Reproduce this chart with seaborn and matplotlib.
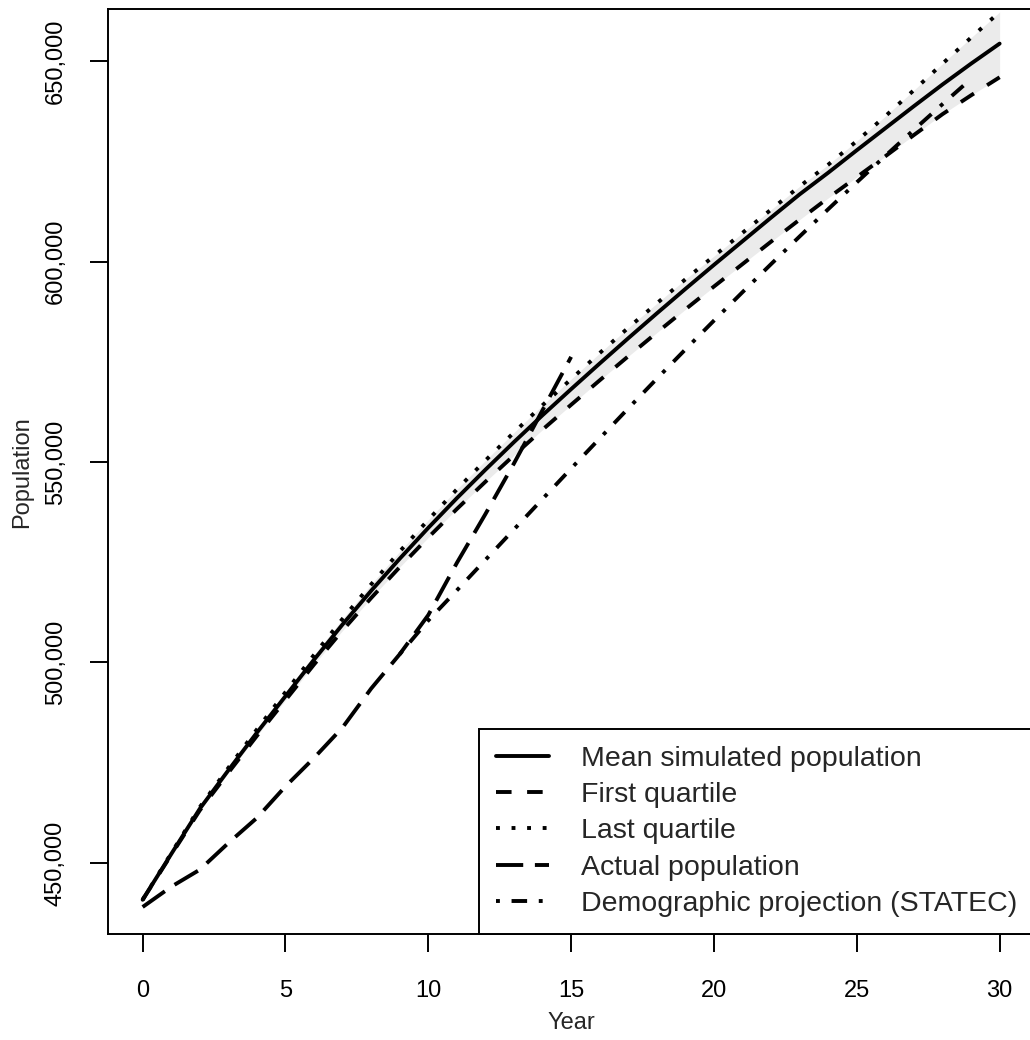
import matplotlib
matplotlib.use("Agg")
import matplotlib.pyplot as plt
from matplotlib.ticker import FuncFormatter
import seaborn as sns

# Simulation results (persons), year 0 .. 30
years = list(range(31))
mean_pop = [440800, 452200, 463500, 473100, 482500, 491600, 500700, 509500, 517900, 525900,
            533600, 541000, 548100, 555000, 561700, 568200, 574600, 580900, 587100, 593200,
            599200, 605100, 611000, 616800, 622200, 627800, 633300, 638800, 644200, 649400,
            654400]
first_quartile = [440800, 452000, 463100, 472500, 481700, 490600, 499500, 508000, 516100, 523800,
                  531200, 538300, 545100, 551700, 558100, 564300, 570400, 576400, 582300, 588100,
                  593800, 599400, 605000, 610500, 615900, 621100, 626300, 631600, 636800, 641500,
                  646000]
last_quartile = [440800, 452400, 463900, 473700, 483300, 492600, 501900, 510900, 519500, 527700,
                 535600, 543200, 550400, 557400, 564200, 570700, 577200, 583500, 589600, 595600,
                 601400, 607200, 613000, 618800, 624200, 630100, 636300, 642800, 649400, 655900,
                 662300]

# Observed population, year 0 .. 15
actual_years = list(range(16))
actual_pop = [439000, 444050, 448300, 454960, 461230, 469090, 476190, 483800, 493500, 502070,
              511840, 524850, 537040, 549680, 562960, 576250]

# STATEC projection, year 9 .. 29
statec_years = list(range(9, 30))
statec_pop = [502070, 510500, 518000, 525600, 533200, 540800, 548400, 555900, 563400, 570800,
              578100, 585300, 592400, 599400, 606300, 613100, 619800, 626400, 632900, 639300,
              645600]

sns.set_style("white")
plt.rcParams["font.family"] = ["Liberation Sans", "DejaVu Sans"]

fig = plt.figure(figsize=(10.3, 10.4), dpi=100)
ax = fig.add_axes([0.1052, 0.1019, 0.8986, 0.8891])

# Grey band between the quartiles
ax.fill_between(years, first_quartile, last_quartile, color="#EBEBEB", linewidth=0)

lw = 2.8
sns.lineplot(x=years, y=mean_pop, ax=ax, color="black", linewidth=lw,
             label="Mean simulated population")
sns.lineplot(x=years, y=first_quartile, ax=ax, color="black", linewidth=lw,
             linestyle=(0, (4, 4)), label="First quartile")
sns.lineplot(x=years, y=last_quartile, ax=ax, color="black", linewidth=lw,
             linestyle=(0, (1, 3)), label="Last quartile")
sns.lineplot(x=actual_years, y=actual_pop, ax=ax, color="black", linewidth=lw,
             linestyle=(0, (7, 3)), label="Actual population")
sns.lineplot(x=statec_years, y=statec_pop, ax=ax, color="black", linewidth=lw,
             linestyle=(0, (1, 3, 4, 3)), label="Demographic projection (STATEC)")

# R-like axis ranges (4% padding around the mean curve)
lo, hi = min(mean_pop), max(mean_pop)
pad = 0.04 * (hi - lo)
ax.set_ylim(lo - pad, hi + pad)
ax.set_xlim(-1.2, 31.2)

ax.set_xticks(range(0, 31, 5))
ax.set_yticks(range(450000, 650001, 50000))
ax.yaxis.set_major_formatter(FuncFormatter(lambda v, p: f"{v:,.0f}"))

for side in ax.spines:
    ax.spines[side].set_color("black")
    ax.spines[side].set_linewidth(1.4)

ax.tick_params(bottom=True, left=True, direction="out", length=13, width=1.4,
               color="black", labelsize=17, labelcolor="black")
ax.tick_params(axis="x", pad=20)
ax.tick_params(axis="y", pad=17, labelrotation=90)
plt.setp(ax.get_yticklabels(), va="center")

ax.set_xlabel("Year", fontsize=17)
ax.xaxis.set_label_coords(0.5, -0.0962)
ax.xaxis.label.set_va("center")
ax.set_ylabel("Population", fontsize=17)
ax.yaxis.set_label_coords(-0.0937, 0.5)
ax.yaxis.label.set_va("center")

leg = ax.legend(loc="lower right", bbox_to_anchor=(1, 0), borderaxespad=0, fontsize=20.5,
                frameon=True, fancybox=False, edgecolor="black", framealpha=1,
                borderpad=0.6, handlelength=1.86, handletextpad=1.1, labelspacing=0.36)
leg.get_frame().set_linewidth(1.4)

fig.savefig("out.png", dpi=100)
